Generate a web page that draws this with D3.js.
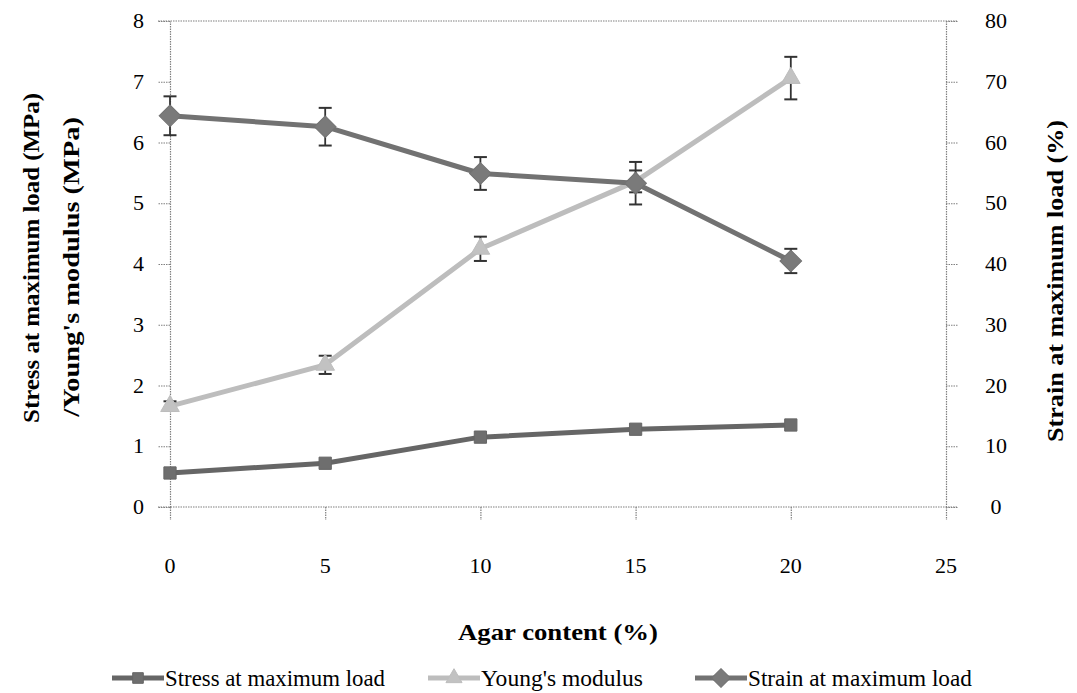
<!DOCTYPE html>
<html>
<head>
<meta charset="utf-8">
<script src="https://cdn.jsdelivr.net/npm/d3@7"></script>
</head>
<body style="margin:0">
<svg id="chart" width="1077" height="693"></svg>
<script>
// Agar content (%) on the x axis
const agar = [0, 5, 10, 15, 20];
const xTicks = [0, 5, 10, 15, 20, 25];
const leftTicks = [0, 1, 2, 3, 4, 5, 6, 7, 8];
const rightTicks = [0, 10, 20, 30, 40, 50, 60, 70, 80];

// Stress at maximum load (MPa), left axis
const stress = [0.56, 0.72, 1.15, 1.28, 1.35];
// Young's modulus (MPa), left axis, with standard deviation
const youngs = [1.66, 2.34, 4.25, 5.36, 7.06];
const youngsErr = [0.08, 0.15, 0.2, 0.18, 0.35];
// Strain at maximum load (%), right axis, with standard deviation
const strain = [64.4, 62.6, 54.9, 53.3, 40.5];
const strainErr = [3.2, 3.1, 2.7, 3.5, 2.0];

const seriesNames = ["Stress at maximum load", "Young's modulus", "Strain at maximum load"];

const svg = d3.select("#chart");

const x = d3.scaleLinear().domain([0, 25]).range([170, 946]);
const yL = d3.scaleLinear().domain([0, 8]).range([507, 21]);
const yR = d3.scaleLinear().domain([0, 80]).range([507, 21]);

const dotted = sel => sel.attr("stroke", "#808080").attr("stroke-width", 1.2).attr("stroke-dasharray", "1.5,1");

// horizontally scale a text node so that it spans `target` pixels
function fitWidth(textSel, target) {
  const w = textSel.node().getComputedTextLength();
  return w > 0 ? target / w : 1;
}

// top border of the plot area
svg.append("line")
  .attr("x1", 158).attr("x2", 958).attr("y1", yL(8)).attr("y2", yL(8))
  .call(dotted);

// axes: ticks are drawn with the axis generators, labels are added as plain text
const gL = svg.append("g").attr("transform", `translate(${x(0)},0)`)
  .call(d3.axisLeft(yL).tickValues(leftTicks).tickSize(12).tickSizeOuter(0).tickFormat(""));
const gR = svg.append("g").attr("transform", `translate(${x(25)},0)`)
  .call(d3.axisRight(yR).tickValues(rightTicks).tickSize(12).tickSizeOuter(0).tickFormat(""));
const gB = svg.append("g").attr("transform", `translate(0,${yL(0)})`)
  .call(d3.axisBottom(x).tickValues(xTicks).tickSize(13).tickSizeOuter(0).tickFormat(""));

[gL, gR, gB].forEach(g => {
  g.select(".domain").call(dotted).attr("fill", "none");
  g.selectAll(".tick line").call(dotted);
  g.selectAll(".tick text").remove();
});
gB.select(".domain").attr("d", `M158,0H958`);

const labels = svg.append("g");
labels.selectAll(".yl").data(leftTicks).join("text")
  .attr("x", x(0) - 26).attr("y", d => yL(d) + 7)
  .attr("text-anchor", "end")
  .attr("font-family", "Liberation Serif").attr("font-size", 22)
  .text(d => d);
labels.selectAll(".yr").data(rightTicks).join("text")
  .attr("x", x(25) + 50).attr("y", d => yR(d) + 7)
  .attr("text-anchor", "middle")
  .attr("font-family", "Liberation Serif").attr("font-size", 22)
  .text(d => d);
labels.selectAll(".xl").data(xTicks).join("text")
  .attr("x", d => x(d)).attr("y", yL(0) + 66)
  .attr("text-anchor", "middle")
  .attr("font-family", "Liberation Serif").attr("font-size", 22)
  .text(d => d);

// axis titles
function title(tx, ty, rot, txt, len, size) {
  const g = svg.append("g");
  const t = g.append("text")
    .attr("text-anchor", "middle").attr("y", size * 0.35)
    .attr("font-family", "Liberation Serif")
    .attr("font-weight", "bold").attr("font-size", size)
    .text(txt);
  const k = fitWidth(t, len);
  g.attr("transform", `translate(${tx},${ty}) rotate(${rot}) scale(${k},1)`);
}
title(31, 258, -90, "Stress at maximum load (MPa)", 330, 23);
title(71, 267, -90, "/Young's modulus (MPa)", 300, 23);
title(1055, 281, -90, "Strain at maximum load (%)", 322, 23);
title(558, 632, 0, "Agar content (%)", 200, 24);

// series definitions
const series = [
  { name: seriesNames[0], values: stress, err: null, y: yL, stroke: "#666666", fill: "#6e6e6e",
    symbol: d3.symbolSquare, size: 150, rotate: 0 },
  { name: seriesNames[1], values: youngs, err: youngsErr, y: yL, stroke: "#bdbdbd", fill: "#c2c2c2",
    symbol: d3.symbolTriangle, size: 150, rotate: 0 },
  { name: seriesNames[2], values: strain, err: strainErr, y: yR, stroke: "#727272", fill: "#7a7a7a",
    symbol: d3.symbolSquare, size: 235, rotate: 45 }
];

const capW = 13;
series.forEach(s => {
  const g = svg.append("g");
  const pts = agar.map((a, i) => [a, s.values[i]]);
  g.append("path")
    .attr("d", d3.line().x(d => x(d[0])).y(d => s.y(d[1]))(pts))
    .attr("fill", "none").attr("stroke", s.stroke).attr("stroke-width", 5)
    .attr("stroke-linejoin", "round");
  if (s.err) {
    const eb = g.selectAll(".eb").data(pts).join("g").attr("class", "eb");
    eb.append("line")
      .attr("x1", d => x(d[0])).attr("x2", d => x(d[0]))
      .attr("y1", (d, i) => s.y(d[1] + s.err[i])).attr("y2", (d, i) => s.y(d[1] - s.err[i]))
      .attr("stroke", "#333").attr("stroke-width", 1.8);
    [1, -1].forEach(sign => {
      eb.append("line")
        .attr("x1", d => x(d[0]) - capW / 2).attr("x2", d => x(d[0]) + capW / 2)
        .attr("y1", (d, i) => s.y(d[1] + sign * s.err[i])).attr("y2", (d, i) => s.y(d[1] + sign * s.err[i]))
        .attr("stroke", "#333").attr("stroke-width", 2);
    });
  }
  g.selectAll(".mk").data(pts).join("path").attr("class", "mk")
    .attr("d", d3.symbol().type(s.symbol).size(s.size))
    .attr("transform", d => `translate(${x(d[0])},${s.y(d[1])}) rotate(${s.rotate})`)
    .attr("fill", s.fill).attr("stroke", s.stroke).attr("stroke-width", 1);
});

// legend
const legendX = [112, 428, 695];
const legendTextW = [220, 162, 224];
const leg = svg.append("g").attr("transform", "translate(0,678)");
series.forEach((s, i) => {
  const g = leg.append("g").attr("transform", `translate(${legendX[i]},0)`);
  g.append("line").attr("x1", 0).attr("x2", 52).attr("y1", 0).attr("y2", 0)
    .attr("stroke", s.stroke).attr("stroke-width", 5);
  g.append("path")
    .attr("d", d3.symbol().type(s.symbol).size(s.size * 0.75))
    .attr("transform", `translate(26,0) rotate(${s.rotate})`)
    .attr("fill", s.fill).attr("stroke", s.stroke);
  const tg = g.append("g");
  const t = tg.append("text").attr("x", 0).attr("y", 8)
    .attr("font-family", "Liberation Serif").attr("font-size", 23)
    .text(s.name);
  tg.attr("transform", `translate(53,0) scale(${fitWidth(t, legendTextW[i])},1)`);
});
</script>
</body>
</html>
